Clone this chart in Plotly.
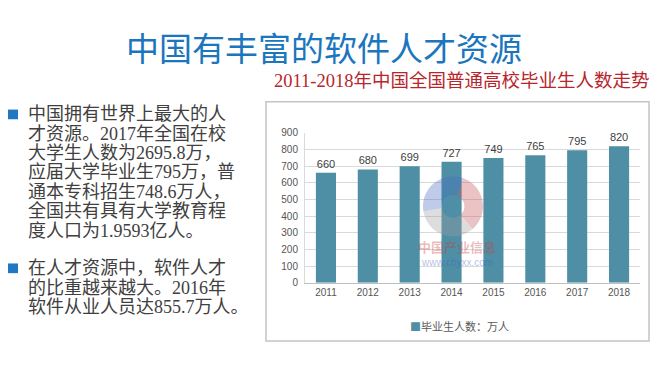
import plotly.graph_objects as go

W, H = 669, 374

years = ["2011", "2012", "2013", "2014", "2015", "2016", "2017", "2018"]
graduates = [660, 680, 699, 727, 749, 765, 795, 820]
y_ticks = [0, 100, 200, 300, 400, 500, 600, 700, 800, 900]

page_title = "中国有丰富的软件人才资源"
chart_title = "2011-2018年中国全国普通高校毕业生人数走势"
series_name = "毕业生人数：万人"

bullet1_lines = [
    "中国拥有世界上最大的人",
    "才资源。2017年全国在校",
    "大学生人数为2695.8万，",
    "应届大学毕业生795万，普",
    "通本专科招生748.6万人，",
    "全国共有具有大学教育程",
    "度人口为1.9593亿人。",
]
bullet2_lines = [
    "在人才资源中，软件人才",
    "的比重越来越大。2016年",
    "软件从业人员达855.7万人。",
]

BAR_COLOR = "#4e8fa5"


def px(x):
    return x / W


def py(y):
    return 1 - y / H


fig = go.Figure()

fig.add_trace(go.Bar(
    x=years, y=graduates, name=series_name,
    marker=dict(color=BAR_COLOR, line=dict(width=0)),
    width=0.48,
    text=[str(v) for v in graduates], textposition="outside",
    textfont=dict(size=11, color="#404040", family="Liberation Sans, Arial"),
    cliponaxis=False, showlegend=False,
))

# faint watermark logo
fig.add_trace(go.Pie(
    values=[1, 1, 1], labels=["a", "b", "c"],
    marker=dict(colors=["#c8555a", "#a0a0a0", "#4a6cc0"]),
    hole=0.38, sort=False, rotation=20, direction="clockwise",
    textinfo="none", hoverinfo="skip", showlegend=False, opacity=0.35,
    domain=dict(x=[px(422), px(484)], y=[py(238), py(176)]),
))

sans = "Noto Sans CJK SC, Noto Sans, sans-serif"
serif_mix = "Liberation Serif, Noto Sans CJK SC, serif"

ann = []
ann.append(dict(text=page_title, x=px(324), y=py(42), xref="paper", yref="paper",
                xanchor="center", yanchor="middle", showarrow=False,
                font=dict(family=sans, size=33, color="#1b76bd")))
ann.append(dict(text=chart_title, x=px(461), y=py(78), xref="paper", yref="paper",
                xanchor="center", yanchor="middle", showarrow=False,
                font=dict(family=serif_mix, size=18.5, color="#b7262c")))

line_ys1 = [112, 132, 152, 172, 192, 212, 232]
line_ys2 = [271, 291, 311]
for t, yy in zip(bullet1_lines, line_ys1):
    ann.append(dict(text=t, x=px(26), y=py(yy), xref="paper", yref="paper",
                    xanchor="left", yanchor="middle", showarrow=False,
                    font=dict(family=serif_mix, size=18, color="#404040")))
for t, yy in zip(bullet2_lines, line_ys2):
    ann.append(dict(text=t, x=px(26), y=py(yy), xref="paper", yref="paper",
                    xanchor="left", yanchor="middle", showarrow=False,
                    font=dict(family=serif_mix, size=18, color="#404040")))

# watermark text
ann.append(dict(text="<b>中国产业信息</b>", x=px(457), y=py(248), xref="paper", yref="paper",
                xanchor="center", yanchor="middle", showarrow=False,
                font=dict(family=sans, size=13, color="rgba(200,60,60,0.35)")))
ann.append(dict(text="www.chyxx.com", x=px(457), y=py(265), xref="paper", yref="paper",
                xanchor="center", yanchor="middle", showarrow=False,
                font=dict(family="Liberation Sans, Arial", size=10, color="rgba(60,90,190,0.4)")))

# legend (compact, as in the reference)
ann.append(dict(text="<span style='color:%s'>■</span>%s" % (BAR_COLOR, series_name),
                x=px(459), y=py(331), xref="paper", yref="paper",
                xanchor="center", yanchor="middle", showarrow=False,
                font=dict(family=sans, size=11, color="#595959")))

shapes = []
# chart frame
shapes.append(dict(type="rect", xref="paper", yref="paper",
                   x0=px(266), x1=px(649), y0=py(346), y1=py(99),
                   line=dict(color="#c4c4c4", width=1.5), fillcolor="rgba(0,0,0,0)", layer="below"))
# bullets
for yy in [line_ys1[0], line_ys2[0]]:
    shapes.append(dict(type="rect", xref="paper", yref="paper",
                       x0=px(8), x1=px(18), y0=py(yy + 5), y1=py(yy - 5),
                       line=dict(width=0), fillcolor="#1f78c1"))

fig.update_layout(
    width=W, height=H,
    margin=dict(l=0, r=0, t=0, b=0),
    paper_bgcolor="white", plot_bgcolor="white",
    annotations=ann, shapes=shapes,
    showlegend=False,
    xaxis=dict(domain=[px(305), px(640)], showgrid=False, showline=True,
               linecolor="#bfbfbf", linewidth=1, ticks="",
               tickfont=dict(family="Liberation Sans, Arial", size=10, color="#555555")),
    yaxis=dict(domain=[py(286), py(131)], range=[0, 900], tickvals=y_ticks,
               showgrid=True, gridcolor="#d9d9d9", gridwidth=1,
               showline=True, linecolor="#d9d9d9", zeroline=False, ticks="",
               ticklabelstandoff=4,
               tickfont=dict(family="Liberation Sans, Arial", size=10, color="#555555")),
    bargap=0.5,
)

fig.write_html(
    "out.html",
    config={"displayModeBar": False},
    post_script="document.body.style.margin='0';document.body.style.overflow='hidden';",
)
